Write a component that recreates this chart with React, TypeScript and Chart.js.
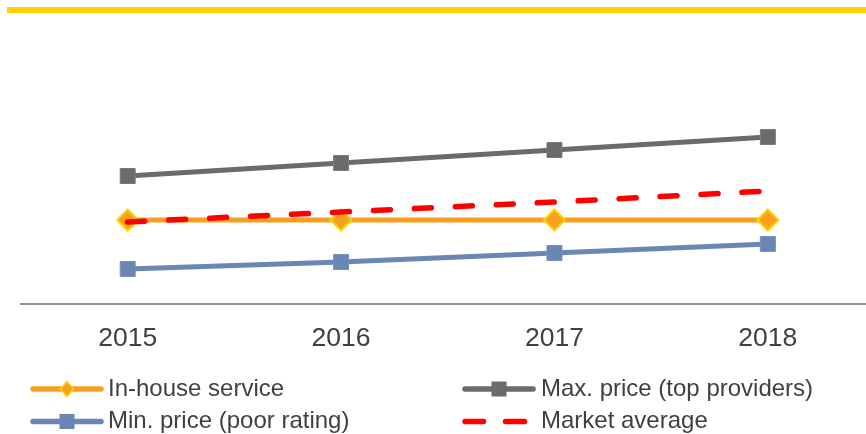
import React, { useEffect, useRef } from "react";
import { Chart, registerables } from "chart.js";

Chart.register(...registerables);

const years = [2015, 2016, 2017, 2018];
const inHouse = [84, 84, 84, 84];
const maxPrice = [128, 141, 154, 167];
const minPrice = [35, 42, 51, 60];
const marketAvg = [82, 92, 102, 113];

const labels = {
  inHouse: "In-house service",
  maxPrice: "Max. price (top providers)",
  minPrice: "Min. price (poor rating)",
  marketAvg: "Market average",
};

const ORANGE = "#f7a020";
const YELLOW = "#ffd200";
const GRAY = "#6b6b6b";
const BLUE = "#6a86b4";
const RED = "#ff0000";
const TEXT = "#404040";
const FONT = "'Liberation Sans', Arial, sans-serif";

const toPts = (arr: number[]) => arr.map((v, i) => ({ x: years[i], y: v }));

const decorPlugin = {
  id: "decor",
  beforeDraw(chart: any) {
    const ctx = chart.ctx;
    ctx.save();
    ctx.fillStyle = YELLOW;
    ctx.fillRect(7, 7, 859, 6);
    ctx.restore();
  },
  afterDraw(chart: any) {
    const ctx = chart.ctx;
    ctx.save();
    ctx.font = `24px ${FONT}`;
    ctx.textBaseline = "middle";
    ctx.fillStyle = TEXT;
    const drawLine = (x1: number, x2: number, y: number, color: string) => {
      ctx.strokeStyle = color;
      ctx.lineWidth = 5.5;
      ctx.lineCap = "round";
      ctx.beginPath();
      ctx.moveTo(x1, y);
      ctx.lineTo(x2, y);
      ctx.stroke();
    };
    const r1 = 389;
    const r2 = 421.5;
    // In-house
    drawLine(33, 101, r1, ORANGE);
    ctx.beginPath();
    ctx.moveTo(67, r1 - 7.5);
    ctx.lineTo(73.5, r1);
    ctx.lineTo(67, r1 + 7.5);
    ctx.lineTo(60.5, r1);
    ctx.closePath();
    ctx.fillStyle = ORANGE;
    ctx.fill();
    ctx.strokeStyle = YELLOW;
    ctx.lineWidth = 1.5;
    ctx.stroke();
    ctx.fillStyle = TEXT;
    ctx.fillText(labels.inHouse, 108, r1);
    // Min price
    drawLine(33, 101, r2, BLUE);
    ctx.fillStyle = BLUE;
    ctx.fillRect(59.5, r2 - 7.5, 15, 15);
    ctx.fillStyle = TEXT;
    ctx.fillText(labels.minPrice, 108, r2);
    // Max price
    drawLine(465, 533, r1, GRAY);
    ctx.fillStyle = GRAY;
    ctx.fillRect(491.5, r1 - 7.5, 15, 15);
    ctx.fillStyle = TEXT;
    ctx.fillText(labels.maxPrice, 541, r1);
    // Market average
    drawLine(465, 483.5, r2, RED);
    drawLine(505.5, 524.5, r2, RED);
    ctx.fillStyle = TEXT;
    ctx.fillText(labels.marketAvg, 541, r2);
    ctx.restore();
  },
};

export default function App() {
  const ref = useRef<HTMLCanvasElement>(null);
  useEffect(() => {
    document.body.style.margin = "0";
    const chart = new Chart(ref.current!, {
      type: "line",
      data: {
        datasets: [
          {
            label: labels.inHouse,
            data: toPts(inHouse),
            borderColor: ORANGE,
            borderWidth: 5,
            pointStyle: "rectRot",
            pointRadius: 10.5,
            pointBackgroundColor: ORANGE,
            pointBorderColor: YELLOW,
            pointBorderWidth: 2,
            order: 2,
          },
          {
            label: labels.maxPrice,
            data: toPts(maxPrice),
            borderColor: GRAY,
            borderWidth: 5,
            pointStyle: "rect",
            pointRadius: 10.6,
            pointBackgroundColor: GRAY,
            pointBorderColor: "#7a7a7a",
            pointBorderWidth: 1,
            order: 1,
          },
          {
            label: labels.minPrice,
            data: toPts(minPrice),
            borderColor: BLUE,
            borderWidth: 5,
            pointStyle: "rect",
            pointRadius: 10.6,
            pointBackgroundColor: BLUE,
            pointBorderColor: "#7590bc",
            pointBorderWidth: 1,
            order: 1,
          },
          {
            label: labels.marketAvg,
            data: toPts(marketAvg),
            borderColor: RED,
            borderWidth: 5.5,
            borderDash: [17, 24],
            borderCapStyle: "round",
            pointRadius: 0,
            order: 0,
          },
        ],
      },
      options: {
        responsive: false,
        animation: false,
        events: [],
        layout: { autoPadding: false, padding: { top: 20, left: 21, right: 0, bottom: 0 } },
        plugins: { legend: { display: false }, tooltip: { enabled: false } },
        scales: {
          x: {
            type: "linear",
            min: 2014.5,
            max: 2018.46,
            grid: { display: false, drawTicks: false },
            border: { display: true, color: "#8e8e8e", width: 2 },
            afterBuildTicks: (axis: any) => {
              axis.ticks = years.map((v) => ({ value: v }));
            },
            afterFit: (scale: any) => {
              scale.height = 130;
              scale.paddingLeft = 0;
              scale.paddingRight = 0;
            },
            ticks: {
              padding: 19,
              color: TEXT,
              font: { family: FONT, size: 26.5 },
              callback: (v: any) => String(v),
              maxRotation: 0,
            },
          },
          y: {
            display: false,
            min: 0,
            max: 284,
          },
        },
      },
      plugins: [decorPlugin],
    });
    return () => chart.destroy();
  }, []);
  return <canvas ref={ref} width={866} height={434} style={{ display: "block" }} />;
}
